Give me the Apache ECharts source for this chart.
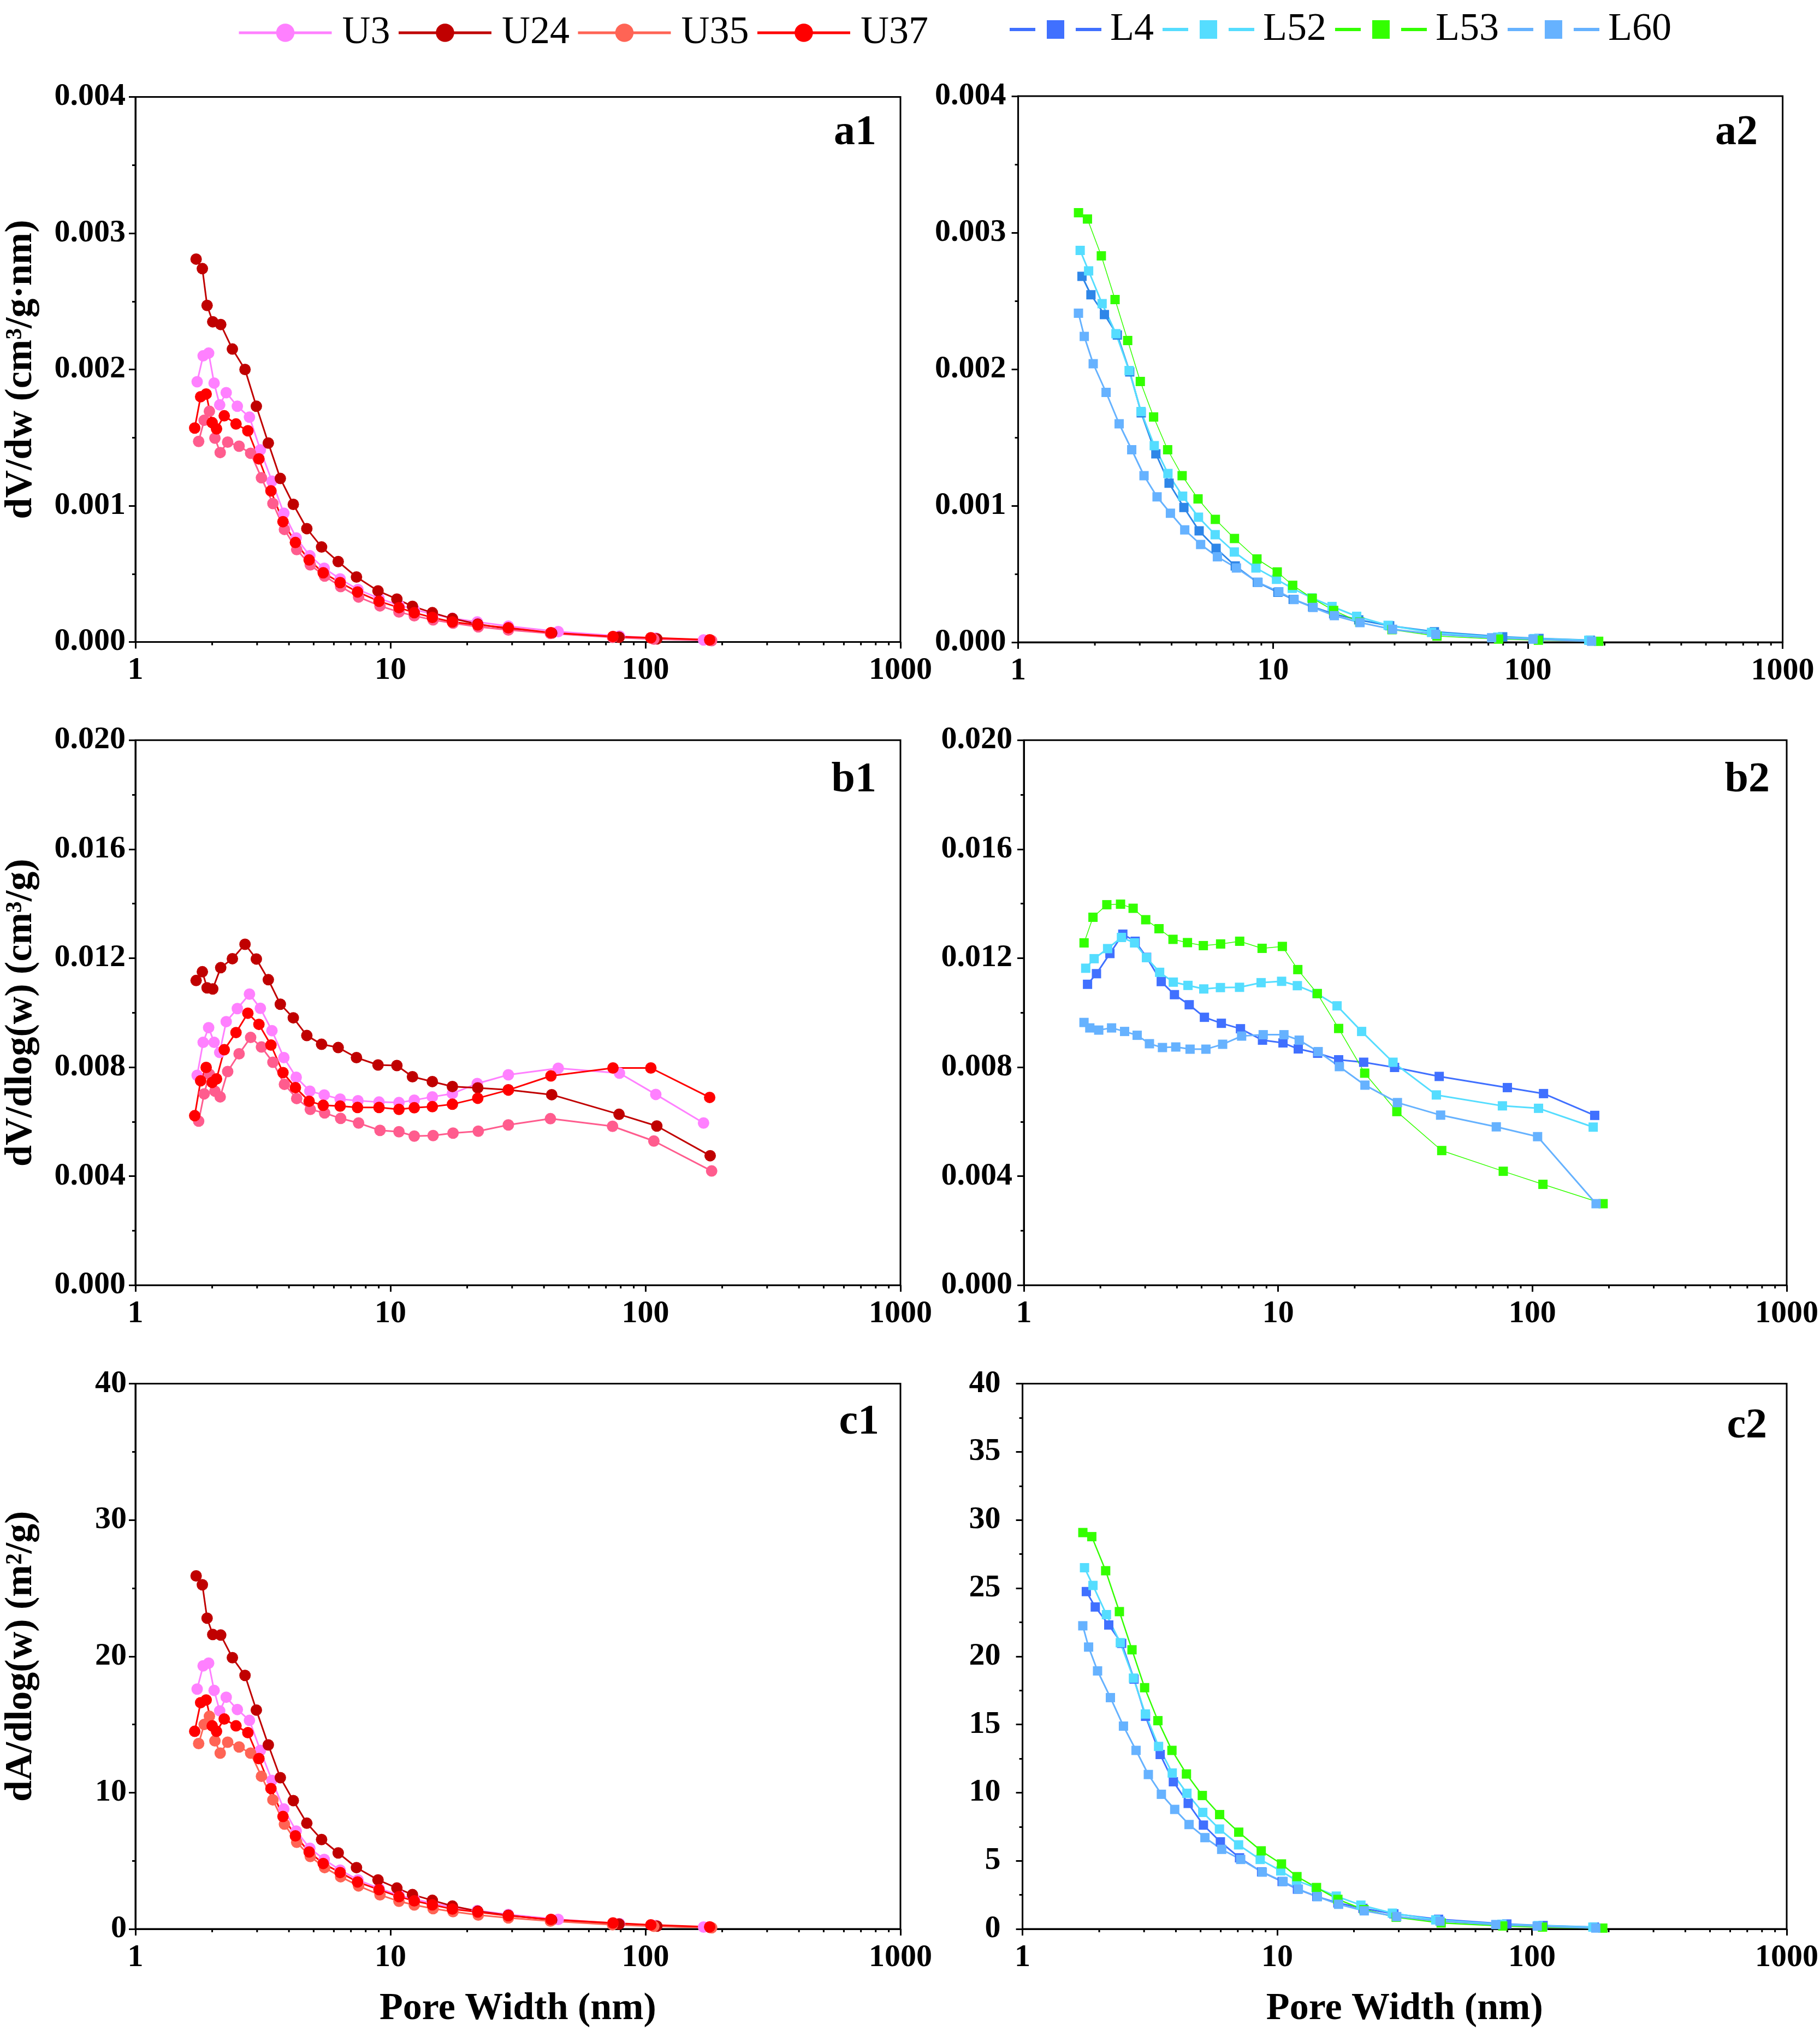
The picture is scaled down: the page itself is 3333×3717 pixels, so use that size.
<!DOCTYPE html>
<html><head><meta charset="utf-8">
<script src="https://cdn.jsdelivr.net/npm/echarts@6/dist/echarts.min.js"></script>
<style>html,body{margin:0;padding:0;background:#fff}#c{width:3333px;height:3717px}</style>
</head><body><div id="c"></div>
<script>
// ---------------- DATA ----------------
const xTickLabels = [1, 10, 100, 1000];
const xMinorTicks = [2,3,4,5,6,7,8,9,20,30,40,50,60,70,80,90,200,300,400,500,600,700,800,900];

const u3X  = [1.746,1.843,1.937,2.035,2.14,2.27,2.51,2.80,3.09,3.43,3.82,4.27,4.83,5.50,6.35,7.46,9.02,10.8,12.4,14.6,17.5,21.9,29.0,45.5,79.1,109.8,169];
const u3A  = [0.00191,0.00210,0.00212,0.00190,0.00174,0.00183,0.00173,0.00165,0.00141,0.00118,0.000945,0.000764,0.000633,0.000541,0.000463,0.000385,0.000320,0.000270,0.000238,0.000205,0.000174,0.000147,0.000116,0.000076,0.000043,0.000028,0.000015];
const u3B  = [0.00770,0.00891,0.00945,0.00891,0.00854,0.00967,0.01015,0.01068,0.01016,0.00934,0.00835,0.00763,0.00712,0.00698,0.00683,0.00677,0.00672,0.00670,0.00679,0.00691,0.00703,0.00740,0.00772,0.00796,0.00778,0.00700,0.00595];
const u3C  = [17.6,19.3,19.5,17.5,16.0,17.0,16.1,15.3,13.1,10.9,8.8,7.18,5.92,5.1,4.32,3.6,2.98,2.48,2.19,1.89,1.61,1.35,1.06,0.70,0.39,0.255,0.14];

const u24X = [1.73,1.83,1.91,2.01,2.16,2.40,2.69,2.98,3.32,3.70,4.16,4.70,5.37,6.24,7.36,8.94,10.6,12.2,14.6,17.5,22.0,29.0,42.9,78.8,110.8,179.4];
const u24A = [0.00281,0.00274,0.00247,0.00235,0.00233,0.00215,0.00200,0.00173,0.00146,0.00120,0.00101,0.000832,0.000697,0.000590,0.000477,0.000375,0.000315,0.000262,0.000215,0.000172,0.000131,0.000096,0.000065,0.000035,0.000023,0.000012];
const u24B = [0.01118,0.01150,0.01091,0.01087,0.01165,0.01198,0.01251,0.01197,0.01121,0.01031,0.00981,0.00916,0.00884,0.00872,0.00835,0.00808,0.00806,0.00765,0.00747,0.00729,0.00724,0.00717,0.00699,0.00627,0.00584,0.00475];
const u24C = [25.9,25.25,22.8,21.6,21.56,19.9,18.6,16.06,13.5,11.1,9.42,7.76,6.56,5.58,4.5,3.6,3.0,2.52,2.1,1.68,1.3,1.0,0.66,0.36,0.21,0.11];

const u35X = [1.77,1.86,1.95,2.05,2.15,2.30,2.55,2.83,3.12,3.46,3.84,4.29,4.85,5.52,6.38,7.50,9.10,10.8,12.4,14.7,17.6,22.1,29.0,42.4,74.3,107.9,181.8];
const u35A = [0.001472,0.001627,0.001693,0.001496,0.00139,0.001467,0.001437,0.001385,0.001205,0.001016,0.000826,0.000678,0.000566,0.000484,0.000407,0.000330,0.000265,0.000220,0.000192,0.000162,0.000138,0.000111,0.000088,0.000063,0.000034,0.000021,0.000010];
const u35B = [0.00602,0.00702,0.00774,0.00712,0.00691,0.00784,0.00849,0.00909,0.00874,0.00818,0.00737,0.00685,0.00645,0.00632,0.00612,0.00595,0.00568,0.00563,0.00547,0.00549,0.00558,0.00565,0.00588,0.00611,0.00583,0.00529,0.00419];
const u35C = [13.6,15.0,15.6,13.8,12.9,13.7,13.35,12.9,11.2,9.47,7.69,6.36,5.32,4.5,3.83,3.16,2.5,2.03,1.76,1.49,1.27,1.02,0.81,0.58,0.31,0.196,0.092];

const u37X = [1.708,1.802,1.894,2.00,2.08,2.23,2.48,2.76,3.05,3.40,3.79,4.24,4.80,5.45,6.35,7.43,9.02,10.8,12.4,14.6,17.5,22.0,29.0,42.6,74.6,105,178.6];
const u37A = [0.00157,0.00180,0.00182,0.00161,0.001564,0.00166,0.00160,0.00155,0.001344,0.001109,0.000883,0.00073,0.000602,0.000508,0.000436,0.000367,0.000299,0.000252,0.000215,0.00018,0.000147,0.000125,0.000104,0.000068,0.00004,0.000031,0.000016];
const u37B = [0.00622,0.0075,0.00799,0.00744,0.00757,0.00864,0.00927,0.00998,0.00957,0.00881,0.0078,0.00725,0.00675,0.0066,0.00657,0.00652,0.00652,0.00645,0.00651,0.00655,0.00664,0.00686,0.00716,0.00768,0.00797,0.00797,0.00689];
const u37C = [14.5,16.6,16.8,14.9,14.5,15.4,14.9,14.4,12.5,10.3,8.25,6.83,5.65,4.8,4.14,3.45,2.88,2.37,2.06,1.77,1.46,1.24,0.97,0.70,0.44,0.30,0.154];

const l4X  = [1.78,1.93,2.18,2.45,2.74,3.04,3.47,3.91,4.47,5.13,5.98,7.11,8.68,10.45,12.0,14.3,17.3,21.7,28.7,43.0,79.7,110.6,175.8];
const l4A  = [0.00268,0.002545,0.0024,0.00225,0.00198,0.00168,0.00138,0.001165,0.000987,0.000816,0.000688,0.000559,0.000439,0.000366,0.000314,0.000259,0.000208,0.000164,0.000121,0.000077,0.00004,0.000028,0.000015];
const l4B  = [0.01104,0.01143,0.01217,0.01288,0.01262,0.01203,0.01114,0.01066,0.01029,0.00983,0.00961,0.00941,0.00899,0.00889,0.00867,0.00851,0.00827,0.00818,0.00799,0.00766,0.00725,0.00703,0.00623];
const l4C  = [24.75,23.62,22.3,20.95,18.33,15.6,12.8,10.8,9.21,7.62,6.39,5.22,4.19,3.48,2.92,2.38,1.91,1.51,1.11,0.71,0.364,0.254,0.142];

const l52X = [1.751,1.89,2.135,2.42,2.725,3.035,3.42,3.87,4.42,5.1,5.93,7.05,8.57,10.32,11.9,14.2,17.05,21.3,28.3,41.9,76.2,105.7,173.4];
const l52A = [0.00287,0.00272,0.00248,0.00226,0.00199,0.00169,0.00144,0.001236,0.00107,0.000916,0.000788,0.000661,0.000544,0.000461,0.000395,0.000325,0.000262,0.00019,0.000124,0.000072,0.0000375,0.0000267,0.0000145];
const l52B = [0.01163,0.01198,0.01235,0.01276,0.01256,0.01202,0.01148,0.01112,0.011,0.01087,0.01092,0.01093,0.0111,0.01115,0.01099,0.0107,0.01025,0.00931,0.00818,0.00698,0.00658,0.00649,0.0058];
const l52C = [26.5,25.2,23.06,21.0,18.4,15.77,13.39,11.44,9.95,8.55,7.33,6.17,5.1,4.26,3.55,3.02,2.41,1.75,1.16,0.666,0.345,0.246,0.134];

const l53X = [1.725,1.87,2.12,2.40,2.69,3.015,3.40,3.86,4.40,5.08,5.94,7.06,8.65,10.39,11.95,14.26,17.3,21.9,29.3,44.0,76.8,110,189.7];
const l53A = [0.003146,0.0031,0.00283,0.00251,0.00221,0.00191,0.00165,0.00141,0.00122,0.00105,0.0009,0.00076,0.00061,0.000515,0.000417,0.000322,0.000233,0.000148,0.000092,0.000045,0.000023,0.000015,0.000007];
const l53B = [0.01256,0.0135,0.01396,0.01398,0.01383,0.01341,0.01308,0.01269,0.01257,0.01246,0.01252,0.01262,0.01236,0.01243,0.01158,0.0107,0.00942,0.00778,0.00637,0.00494,0.00418,0.0037,0.00299];
const l53C = [29.08,28.78,26.28,23.28,20.48,17.7,15.28,13.1,11.37,9.79,8.39,7.1,5.73,4.77,3.84,3.04,2.17,1.42,0.86,0.445,0.219,0.135,0.063];

const l60X = [1.724,1.817,1.97,2.213,2.49,2.79,3.118,3.508,3.958,4.505,5.2,6.05,7.185,8.735,10.54,12.1,14.37,17.41,21.95,29.45,43.55,72.1,104.8,178];
const l60A = [0.00241,0.00224,0.00204,0.00183,0.0016,0.00141,0.00122,0.001065,0.000945,0.000823,0.000716,0.000626,0.000544,0.000439,0.00037,0.000313,0.000255,0.000195,0.000144,0.000095,0.000058,0.000033,0.0000226,0.0000073];
const l60B = [0.00964,0.00944,0.00936,0.00944,0.00931,0.00917,0.00886,0.00872,0.00874,0.00866,0.00866,0.00884,0.00914,0.00919,0.00919,0.00899,0.00857,0.00802,0.00734,0.0067,0.00624,0.00581,0.00545,0.00299];
const l60C = [22.24,20.68,18.93,16.97,14.88,13.1,11.33,9.88,8.77,7.66,6.7,5.84,5.1,4.17,3.48,2.92,2.37,1.81,1.33,0.91,0.57,0.324,0.208,0.067];

const uNames = ['U3','U24','U35','U37'];
const lNames = ['L4','L52','L53','L60'];
const panelLabels = ['a1','a2','b1','b2','c1','c2'];

// ---------------- CHART ----------------
const FONT = '"Liberation Serif", "Times New Roman", Times, serif';
const chart = echarts.init(document.getElementById('c'), null, {renderer:'canvas', width:3333, height:3717});

// grid index: 0 a1, 1 a2, 2 b1, 3 b2, 4 c1, 5 c2
const grids = [
  {left:248,   top:177.5,  width:1401, height:998},
  {left:1864.6,top:176,    width:1400, height:1000},
  {left:248,   top:1355.2, width:1401, height:998},
  {left:1875,  top:1355.2, width:1400, height:998},
  {left:248,   top:2533.6, width:1401, height:998.4},
  {left:1872.6,top:2533.6, width:1400, height:998.4}
].map(g => Object.assign({show:true, borderColor:'#000', borderWidth:3, backgroundColor:'rgba(0,0,0,0)'}, g));

function xAxisCfg(gi, showName){
  return {type:'log', logBase:10, gridIndex:gi, min:1, max:1000,
    axisLine:{show:true, onZero:false, lineStyle:{color:'#000', width:3}},
    axisTick:{show:true, inside:false, length:12, lineStyle:{color:'#000', width:3}},
    minorTick:{show:false}, splitLine:{show:false}, minorSplitLine:{show:false},
    axisLabel:{fontSize:58, fontWeight:'bold', fontFamily:FONT, color:'#000', margin:24,
      formatter: v => { const r = Math.round(v); return xTickLabels.indexOf(r) >= 0 ? String(r) : ''; }},
    name: showName ? 'Pore Width (nm)' : '', nameLocation:'middle', nameGap:112,
    nameTextStyle:{fontSize:70, fontWeight:'bold', fontFamily:FONT, color:'#000'}
  };
}
function yAxisCfg(gi, max, interval, digits, name, margin){
  return {type:'value', gridIndex:gi, min:0, max:max, interval:interval,
    axisLine:{show:true, onZero:false, lineStyle:{color:'#000', width:3}},
    axisTick:{show:true, inside:false, length:12, lineStyle:{color:'#000', width:3}},
    minorTick:{show:true, splitNumber:2, length:6, lineStyle:{color:'#000', width:3}},
    splitLine:{show:false}, minorSplitLine:{show:false},
    axisLabel:{fontSize:58, fontWeight:'bold', fontFamily:FONT, color:'#000', margin:margin,
      formatter: v => digits > 0 ? v.toFixed(digits) : String(Math.round(v))},
    name: name, nameLocation:'middle', nameGap:174,
    nameTextStyle:{fontSize:70, fontWeight:'bold', fontFamily:FONT, color:'#000'}
  };
}

const xAxes = [0,1,2,3,4,5].map(i => xAxisCfg(i, i >= 4));
const yAxes = [
  yAxisCfg(0, 0.004, 0.001, 3, 'dV/dw (cm³/g·nm)', 18),
  yAxisCfg(1, 0.004, 0.001, 3, '', 22),
  yAxisCfg(2, 0.020, 0.004, 3, 'dV/dlog(w) (cm³/g)', 18),
  yAxisCfg(3, 0.020, 0.004, 3, '', 21),
  yAxisCfg(4, 40, 10, 0, 'dA/dlog(w) (m²/g)', 16),
  yAxisCfg(5, 40, 5, 0, '', 40)
];

function pairs(xs, ys){ return xs.map((x, i) => [x, ys[i]]); }
function lineSeries(name, xs, ys, gi, color, symbol, size, lw){
  return {type:'line', name:name, xAxisIndex:gi, yAxisIndex:gi, data:pairs(xs, ys),
    symbol:symbol, symbolSize:size, showSymbol:true, showAllSymbol:true,
    itemStyle:{color:color, borderWidth:0}, lineStyle:{color:color, width:lw},
    emphasis:{disabled:true}, animation:false};
}
function minorTickSeries(gi){
  return {type:'custom', xAxisIndex:gi, yAxisIndex:gi, clip:false, silent:true, animation:false,
    data: xMinorTicks.map(v => [v, 0]),
    renderItem: (params, api) => {
      const p = api.coord([api.value(0), api.value(1)]);
      return {type:'line', shape:{x1:p[0], y1:p[1], x2:p[0], y2:p[1] + 6}, style:{stroke:'#000', lineWidth:3}};
    }};
}

const C = {U3:'#FF80FF', U24:'#C00000', U35:'#FF6455', U35p:'#FF5C8E', U37:'#FF0000',
           L4:'#4070FF', L4a:'#2E86E8', L52:'#55DDFF', L53:'#33FF00', L60:'#66B2FF'};
const CIRC = 21, SQ = 17;

const series = [
  // c panels first (legend takes its colour from the first series of a name)
  lineSeries('U3',  u3X,  u3C,  4, C.U3,  'circle', CIRC, 3),
  lineSeries('U24', u24X, u24C, 4, C.U24, 'circle', CIRC, 3),
  lineSeries('U35', u35X, u35C, 4, C.U35, 'circle', CIRC, 3),
  lineSeries('U37', u37X, u37C, 4, C.U37, 'circle', CIRC, 3),
  lineSeries('L4',  l4X,  l4C,  5, C.L4,  'rect', SQ, 3),
  lineSeries('L52', l52X, l52C, 5, C.L52, 'rect', SQ, 3),
  lineSeries('L53', l53X, l53C, 5, C.L53, 'rect', SQ, 2.5),
  lineSeries('L60', l60X, l60C, 5, C.L60, 'rect', SQ, 3),
  // a panels
  lineSeries('U3',  u3X,  u3A,  0, C.U3,  'circle', CIRC, 3),
  lineSeries('U24', u24X, u24A, 0, C.U24, 'circle', CIRC, 3),
  lineSeries('U35', u35X, u35A, 0, C.U35p,'circle', CIRC, 3),
  lineSeries('U37', u37X, u37A, 0, C.U37, 'circle', CIRC, 3),
  lineSeries('L4',  l4X,  l4A,  1, C.L4a, 'rect', SQ, 3),
  lineSeries('L52', l52X, l52A, 1, C.L52, 'rect', SQ, 3),
  lineSeries('L53', l53X, l53A, 1, C.L53, 'rect', SQ, 1.5),
  lineSeries('L60', l60X, l60A, 1, C.L60, 'rect', SQ, 3),
  // b panels
  lineSeries('U3',  u3X,  u3B,  2, C.U3,  'circle', CIRC, 3),
  lineSeries('U24', u24X, u24B, 2, C.U24, 'circle', CIRC, 3),
  lineSeries('U35', u35X, u35B, 2, C.U35p,'circle', CIRC, 3),
  lineSeries('U37', u37X, u37B, 2, C.U37, 'circle', CIRC, 3),
  lineSeries('L4',  l4X,  l4B,  3, C.L4,  'rect', SQ, 3),
  lineSeries('L52', l52X, l52B, 3, C.L52, 'rect', SQ, 3),
  lineSeries('L53', l53X, l53B, 3, C.L53, 'rect', SQ, 1.5),
  lineSeries('L60', l60X, l60B, 3, C.L60, 'rect', SQ, 3)
];
for (let i = 0; i < 6; i++) series.push(minorTickSeries(i));

const L_ICON = 'path://M0,14L47,14L47,20L0,20Z M68,0L100,0L100,34L68,34Z M121,14L168,14L168,20L121,20Z';

const labelPos = [[1605,244],[3219,244],[1605,1429],[3241,1429],[1610,2605],[3236,2612]];
const graphics = panelLabels.map((t, i) => ({type:'text', x:labelPos[i][0], y:labelPos[i][1], z:100,
  style:{text:t, font:'bold 78px ' + FONT, fill:'#000', textAlign:'right', textVerticalAlign:'middle', align:'right', verticalAlign:'middle'}}));

chart.setOption({
  backgroundColor:'#ffffff',
  animation:false,
  grid: grids,
  xAxis: xAxes,
  yAxis: yAxes,
  legend: [
    {data: uNames, left:435, top:24, padding:0, itemWidth:170, itemHeight:42, itemGap:13,
     lineStyle:{width:5}, itemStyle:{borderWidth:0},
     textStyle:{fontSize:72, fontFamily:FONT, color:'#000', padding:[0,0,0,14]}, selectedMode:false},
    {data: lNames.map(n => ({name:n, icon:L_ICON})), left:1849, top:18, padding:0, itemWidth:168, itemHeight:34, itemGap:16,
     itemStyle:{borderWidth:0},
     textStyle:{fontSize:72, fontFamily:FONT, color:'#000', padding:[0,0,0,11]}, selectedMode:false}
  ],
  graphic: graphics,
  series: series
});
</script>
</body></html>
